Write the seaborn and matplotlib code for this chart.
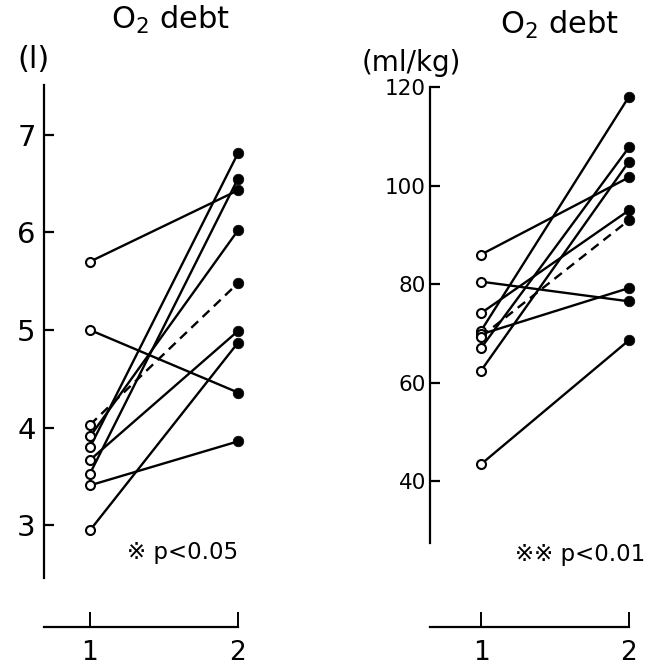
import numpy as np
import pandas as pd
import matplotlib
matplotlib.use("Agg")
import matplotlib.pyplot as plt
import seaborn as sns

# ── Data ───────────────────────────────────────────────────
# O2 debt in litres, condition 1 -> condition 2 (one pair per subject)
pre_l  = [5.70, 5.00, 3.91, 3.80, 3.67, 3.53, 3.41, 2.95]
post_l = [6.43, 4.36, 6.02, 6.81, 4.99, 6.55, 3.86, 4.87]
mean_l = [4.03, 5.48]

# O2 debt in ml/kg
pre_r  = [86.0, 80.5, 74.1, 70.5, 69.8, 67.0, 62.4, 43.4]
post_r = [101.7, 76.5, 95.0, 118.1, 79.2, 107.8, 104.9, 68.6]
mean_r = [69.3, 93.0]

times = [1, 2]
yticks_l = [3, 4, 5, 6, 7]
yticks_r = [40, 60, 80, 100, 120]


def long_df(pre, post):
    rows = []
    for i, (a, b) in enumerate(zip(pre, post)):
        rows.append({"subject": i, "time": times[0], "value": a})
        rows.append({"subject": i, "time": times[1], "value": b})
    return pd.DataFrame(rows)


sns.set_style("ticks")
plt.rcParams.update({
    "text.color": "black",
    "axes.edgecolor": "black",
    "xtick.color": "black",
    "ytick.color": "black",
    "axes.labelcolor": "black",
    "mathtext.fontset": "dejavusans",
})
plt.rcParams["font.family"] = ["DejaVu Sans", "Noto Sans CJK JP"]

W, H = 650, 666
fig = plt.figure(figsize=(W / 100, H / 100), dpi=100)


def px_axes(x0, x1, y0, y1):
    # pixel box (top-left origin) -> figure fraction axes
    return fig.add_axes([x0 / W, 1 - y1 / H, (x1 - x0) / W, (y1 - y0) / H])


def draw_panel(ax, pre, post, mean, xlim, ylim, spine_bounds, yticks,
               ylab_size, ylab_pad):
    df = long_df(pre, post)
    sns.lineplot(data=df, x="time", y="value", units="subject", estimator=None,
                 color="black", lw=1.7, ax=ax, legend=False)
    mdf = pd.DataFrame({"time": times, "value": mean})
    sns.lineplot(data=mdf, x="time", y="value", color="black", lw=1.7,
                 linestyle=(0, (4, 2.6)), ax=ax, legend=False)

    allpts = pd.concat([df[["time", "value"]], mdf], ignore_index=True)
    first = allpts[allpts["time"] == 1]
    second = allpts[allpts["time"] == 2]
    sns.scatterplot(data=first, x="time", y="value", s=42, marker="o",
                    facecolor="white", edgecolor="black", linewidth=1.5,
                    ax=ax, zorder=5, clip_on=False, legend=False)
    sns.scatterplot(data=second, x="time", y="value", s=58, marker="o",
                    color="black", edgecolor="black", linewidth=0.5,
                    ax=ax, zorder=5, clip_on=False, legend=False)

    ax.set_xlim(*xlim)
    ax.set_ylim(*ylim)
    ax.set_xlabel("")
    ax.set_ylabel("")
    sns.despine(ax=ax, top=True, right=True)
    for s in ("left", "bottom"):
        ax.spines[s].set_linewidth(1.6)
    ax.spines["left"].set_bounds(*spine_bounds)

    ax.set_yticks(yticks)
    ax.set_yticklabels([str(t) for t in yticks])
    ax.tick_params(axis="y", direction="in", length=7, width=1.6,
                   labelsize=ylab_size, pad=ylab_pad)
    ax.set_xticks(times)
    ax.set_xticklabels(["1", "2"])
    ax.tick_params(axis="x", direction="in", length=11, width=1.4,
                   labelsize=19, pad=9)


# ── Left panel: litres ────────────────────────────────────
ax1 = px_axes(44, 238, 85, 627)
draw_panel(ax1, pre_l, post_l, mean_l,
           xlim=(1 - 46 / 148, 2.0),
           ylim=(5 - (627 - 330) / 97.7, 5 + (330 - 85) / 97.7),
           spine_bounds=(5 - (578 - 330) / 97.7, 5 + (330 - 85) / 97.7),
           yticks=yticks_l, ylab_size=21, ylab_pad=6)

# ── Right panel: ml/kg ────────────────────────────────────
ax2 = px_axes(430, 629, 87, 627)
draw_panel(ax2, pre_r, post_r, mean_r,
           xlim=(1 - 51 / 148, 2.0),
           ylim=(120 - (627 - 87.3) / 4.921, 120.05),
           spine_bounds=(120 - (543 - 87.3) / 4.921, 120.05),
           yticks=yticks_r, ylab_size=15.5, ylab_pad=3)

# ── Titles, units, significance ───────────────────────────
fig.text(171 / W, 1 - 20 / H, r"O$_2$ debt", ha="center", va="center", fontsize=22)
fig.text(560 / W, 1 - 25 / H, r"O$_2$ debt", ha="center", va="center", fontsize=22)
fig.text(33 / W, 1 - 60 / H, "(l)", ha="center", va="center", fontsize=22)
fig.text(411 / W, 1 - 63 / H, "(ml/kg)", ha="center", va="center", fontsize=20)

fig.text(238 / W, 1 - 553 / H, "※ p<0.05", ha="right", va="center", fontsize=16.5)
fig.text(645 / W, 1 - 555 / H, "※※ p<0.01", ha="right", va="center", fontsize=16.5)

plt.savefig("out.png", dpi=100, facecolor="white")
plt.close()
